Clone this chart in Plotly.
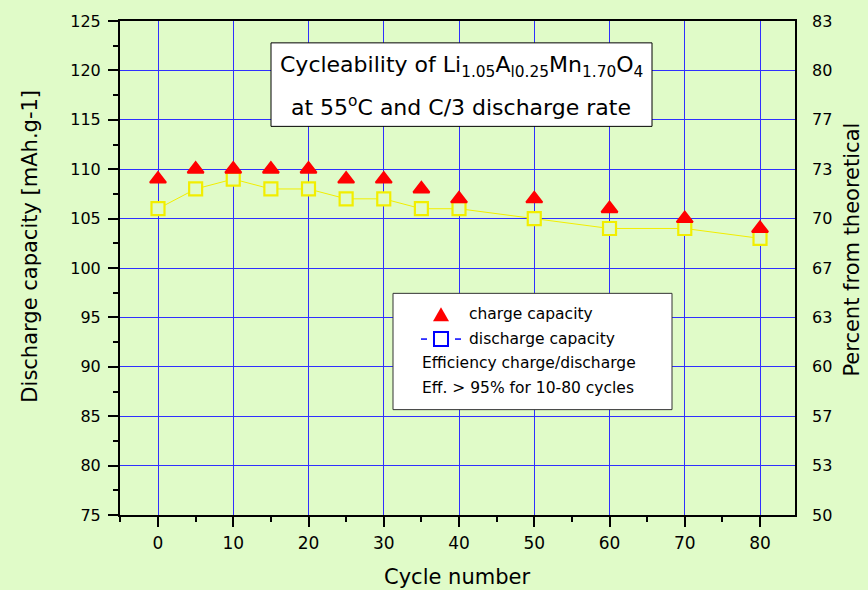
import plotly.graph_objects as go

# Cycling data (mAh/g)
cycles = [0, 5, 10, 15, 20, 25, 30, 35, 40, 50, 60, 70, 80]
charge_capacity = [109, 110, 110, 110, 110, 109, 109, 108, 107, 107, 106, 105, 104]
discharge_capacity = [106, 108, 109, 108, 108, 107, 107, 106, 106, 105, 104, 104, 103]

# Axis ticks
x_ticks = [0, 10, 20, 30, 40, 50, 60, 70, 80]
cap_ticks = [75, 80, 85, 90, 95, 100, 105, 110, 115, 120, 125]
theoretical_capacity = 150.0  # mAh/g, used for the percent axis
pct_tick_labels = ["50", "53", "57", "60", "63", "67", "70", "73", "77", "80", "83"]

BG = "#E0FBC8"
GRID = "#2F2FFF"
FONT = "DejaVu Sans"

# Plot area in pixels (used to place the boxes and labels)
L, R, T, B = 120, 795, 18, 515


def px(xp):
    return (xp - L) / (R - L)


def py(yp):
    return (B - yp) / (B - T)


fig = go.Figure()

fig.add_trace(go.Scatter(
    x=cycles, y=discharge_capacity, mode="lines+markers",
    line=dict(color="#F2EE00", width=1),
    marker=dict(symbol="square", size=13, color=BG,
                line=dict(color="#F2EE00", width=2.2)),
    showlegend=False, cliponaxis=False,
))
fig.add_trace(go.Scatter(
    x=cycles, y=charge_capacity, mode="markers",
    marker=dict(symbol="triangle-up", size=14, color="#FF0000",
                line=dict(color="#FF0000", width=2)),
    showlegend=False, cliponaxis=False,
))
# anchor trace for the percent axis
fig.add_trace(go.Scatter(x=[None], y=[None], yaxis="y2", showlegend=False,
                         hoverinfo="skip"))

pct_vals = [c / theoretical_capacity * 100 for c in cap_ticks]

fig.update_layout(
    width=868, height=590,
    margin=dict(l=L, r=868 - R, t=T, b=590 - B),
    paper_bgcolor=BG, plot_bgcolor=BG,
    font=dict(family=FONT, size=16, color="black"),
    xaxis=dict(
        range=[-5.05, 84.65], tickvals=x_ticks, showgrid=True,
        gridcolor=GRID, gridwidth=1, zeroline=False,
        showline=True, linecolor="black", linewidth=2, mirror=True,
        ticks="outside", ticklen=10, tickwidth=2, tickcolor="black",
        tickfont=dict(size=17), ticklabelstandoff=2,
        minor=dict(dtick=5, tick0=5, ticks="outside", ticklen=5,
                   tickwidth=2, tickcolor="black", showgrid=False),
    ),
    yaxis=dict(
        range=[75, 125], tickvals=cap_ticks, showgrid=True,
        gridcolor=GRID, gridwidth=1, zeroline=False,
        showline=True, linecolor="black", linewidth=2, mirror=True,
        ticks="outside", ticklen=10, tickwidth=2, tickcolor="black",
        tickfont=dict(size=16), ticklabelstandoff=4,
        minor=dict(dtick=2.5, tick0=75, ticks="outside", ticklen=5,
                   tickwidth=2, tickcolor="black", showgrid=False),
    ),
    yaxis2=dict(
        overlaying="y", side="right", anchor="x",
        range=[75 / theoretical_capacity * 100, 125 / theoretical_capacity * 100],
        tickvals=pct_vals, ticktext=pct_tick_labels,
        showgrid=False, zeroline=False, showline=False, ticks="",
        tickfont=dict(size=16), ticklabelstandoff=16,
    ),
)

shapes = []
annotations = []

# Title box
shapes.append(dict(type="rect", xref="paper", yref="paper",
                   x0=px(271), x1=px(652), y0=py(124), y1=py(40),
                   fillcolor="white", line=dict(color="black", width=1),
                   layer="above"))
annotations.append(dict(
    xref="paper", yref="paper", x=px(461), y=py(64), showarrow=False,
    xanchor="center", yanchor="middle", font=dict(size=22),
    text="Cycleability of Li<sub>1.05</sub>A<sub>l0.25</sub>Mn<sub>1.70</sub>O<sub>4</sub>"))
annotations.append(dict(
    xref="paper", yref="paper", x=px(461), y=py(104), showarrow=False,
    xanchor="center", yanchor="middle", font=dict(size=22),
    text="at 55<sup>o</sup>C and C/3 discharge rate"))

# Legend box
shapes.append(dict(type="rect", xref="paper", yref="paper",
                   x0=px(393), x1=px(672), y0=py(409), y1=py(292),
                   fillcolor="white", line=dict(color="#333333", width=1),
                   layer="above"))
shapes.append(dict(type="path", xref="paper", yref="paper",
                   path=f"M {px(433)},{py(320)} L {px(449)},{py(320)} L {px(441)},{py(306)} Z",
                   fillcolor="#FF0000", line=dict(width=0), layer="above"))
shapes.append(dict(type="rect", xref="paper", yref="paper",
                   x0=px(434), x1=px(448), y0=py(345), y1=py(331),
                   fillcolor="white", line=dict(color="#0000FF", width=2),
                   layer="above"))
for a, b in [(421, 427), (455, 461)]:
    shapes.append(dict(type="line", xref="paper", yref="paper",
                       x0=px(a), x1=px(b), y0=py(338), y1=py(338),
                       line=dict(color="#0000FF", width=1.5), layer="above"))

legend_rows = [
    (467, 313, "charge capacity"),
    (467, 338, "discharge capacity"),
    (420, 362, "Efficiency charge/discharge"),
    (420, 387, "Eff. &gt; 95% for 10-80 cycles"),
]
for xp, yp, txt in legend_rows:
    annotations.append(dict(xref="paper", yref="paper", x=px(xp), y=py(yp),
                            showarrow=False, xanchor="left", yanchor="middle",
                            font=dict(size=15.5), text=txt))

# Axis titles
annotations.append(dict(xref="paper", yref="paper", x=px(30), y=py(245),
                        showarrow=False, textangle=-90, xanchor="center",
                        yanchor="middle", font=dict(size=21),
                        text="Discharge capacity [mAh.g-1]"))
annotations.append(dict(xref="paper", yref="paper", x=px(852), y=py(248),
                        showarrow=False, textangle=-90, xanchor="center",
                        yanchor="middle", font=dict(size=21),
                        text="Percent from theoretical"))
annotations.append(dict(xref="paper", yref="paper", x=px(457), y=py(577),
                        showarrow=False, xanchor="center", yanchor="middle",
                        font=dict(size=21), text="Cycle number"))

fig.update_layout(shapes=shapes, annotations=annotations)

fig.write_html("out.html")
